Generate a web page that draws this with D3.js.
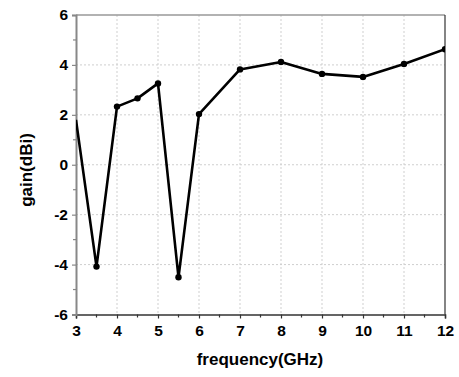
<!DOCTYPE html>
<html>
<head>
<meta charset="utf-8">
<script src="https://cdn.jsdelivr.net/npm/d3@7"></script>
<style>
  body { margin: 0; background: #fff; }
  text { font-family: Arial, "Liberation Sans", sans-serif; font-weight: bold; }
</style>
</head>
<body>
<svg id="chart" width="459" height="377"></svg>
<script>
const freq = [3, 3.5, 4, 4.5, 5, 5.5, 6, 7, 8, 9, 10, 11, 12];
const gain = [1.8, -4.08, 2.33, 2.66, 3.26, -4.51, 2.03, 3.82, 4.12, 3.64, 3.52, 4.04, 4.63];
const xTicks = [3, 4, 5, 6, 7, 8, 9, 10, 11, 12];
const yTicks = [-6, -4, -2, 0, 2, 4, 6];

const W = 459, H = 377;
const m = { left: 76, right: 14, top: 15, bottom: 62.5 };

const svg = d3.select("#chart");

const x = d3.scaleLinear().domain([3, 12]).range([m.left, W - m.right]);
const y = d3.scaleLinear().domain([-6, 6]).range([H - m.bottom, m.top]);

// grille pointillée
const grid = svg.append("g")
  .attr("stroke", "#cfcfcf")
  .attr("stroke-width", 1)
  .attr("stroke-dasharray", "2,2");

grid.selectAll("line.gx")
  .data(xTicks.slice(1, -1))
  .enter().append("line")
  .attr("x1", d => x(d)).attr("x2", d => x(d))
  .attr("y1", y(6)).attr("y2", y(-6));

grid.selectAll("line.gy")
  .data(yTicks.slice(1, -1))
  .enter().append("line")
  .attr("y1", d => y(d)).attr("y2", d => y(d))
  .attr("x1", x(3)).attr("x2", x(12));

// cadre haut / droit
svg.append("line")
  .attr("x1", x(3)).attr("x2", x(12))
  .attr("y1", y(6)).attr("y2", y(6))
  .attr("stroke", "#999").attr("stroke-width", 1.5);
svg.append("line")
  .attr("x1", x(12)).attr("x2", x(12))
  .attr("y1", y(6)).attr("y2", y(-6))
  .attr("stroke", "#333").attr("stroke-width", 1.2);

// axes
const fmt = d => String(d);
const xAxis = d3.axisBottom(x).tickValues(xTicks).tickSize(4).tickPadding(6.5).tickFormat(fmt);
const yAxis = d3.axisLeft(y).tickValues(yTicks).tickSize(4).tickPadding(4).tickFormat(fmt);

const gx = svg.append("g")
  .attr("transform", `translate(0,${y(-6)})`)
  .call(xAxis);
gx.select(".domain").attr("stroke", "#333").attr("stroke-width", 1.5);
gx.selectAll(".tick line").attr("stroke", "#333").attr("stroke-width", 1.2);
gx.selectAll("text").attr("font-size", 15.5).attr("fill", "#000");

const gy = svg.append("g")
  .attr("transform", `translate(${x(3)},0)`)
  .call(yAxis);
gy.select(".domain").attr("stroke", "#888").attr("stroke-width", 2);
gy.selectAll(".tick line").attr("stroke", "#888").attr("stroke-width", 1.2);
gy.selectAll("text").attr("font-size", 15.5).attr("fill", "#000");

// petites graduations
const xMinor = d3.range(3.5, 12, 1);
svg.append("g").selectAll("line")
  .data(xMinor).enter().append("line")
  .attr("x1", d => x(d)).attr("x2", d => x(d))
  .attr("y1", y(-6)).attr("y2", y(-6) + 3)
  .attr("stroke", "#333").attr("stroke-width", 1.2);

const yMinor = d3.range(-5, 6, 2);
svg.append("g").selectAll("line")
  .data(yMinor).enter().append("line")
  .attr("y1", d => y(d)).attr("y2", d => y(d))
  .attr("x1", x(3)).attr("x2", x(3) - 3)
  .attr("stroke", "#888").attr("stroke-width", 1.2);

// courbe
svg.append("defs").append("clipPath").attr("id", "plot")
  .append("rect")
  .attr("x", x(3)).attr("y", y(6))
  .attr("width", x(12) - x(3)).attr("height", y(-6) - y(6));

const pts = freq.map((f, i) => [f, gain[i]]);

const plot = svg.append("g").attr("clip-path", "url(#plot)");
plot.append("path")
  .datum(pts)
  .attr("fill", "none")
  .attr("stroke", "#000")
  .attr("stroke-width", 2.6)
  .attr("stroke-linejoin", "round")
  .attr("d", d3.line().x(d => x(d[0])).y(d => y(d[1])));

plot.selectAll("circle")
  .data(pts.slice(1))
  .enter().append("circle")
  .attr("cx", d => x(d[0]))
  .attr("cy", d => y(d[1]))
  .attr("r", 3.2)
  .attr("fill", "#000");

// titres
svg.append("text")
  .attr("x", 260)
  .attr("y", 365)
  .attr("text-anchor", "middle")
  .attr("font-size", 17)
  .text("frequency(GHz)");

svg.append("text")
  .attr("transform", `translate(32,170) rotate(-90)`)
  .attr("text-anchor", "middle")
  .attr("font-size", 17)
  .text("gain(dBi)");
</script>
</body>
</html>
